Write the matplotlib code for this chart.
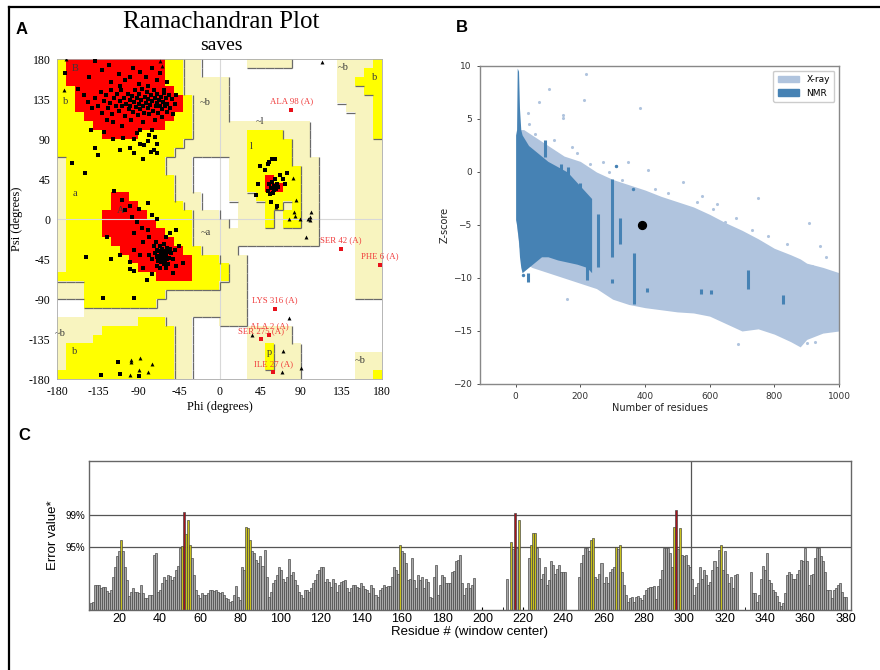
import numpy as np
import matplotlib as mpl
mpl.use('Agg')
import matplotlib.pyplot as plt
from matplotlib.colors import ListedColormap
from matplotlib.collections import LineCollection
from matplotlib.lines import Line2D
from matplotlib.patches import Patch

# ---------------- panel A: Ramachandran plot ----------------
# 10 degree cells; rows from psi=180 (top) to psi=-180, columns phi=-180..180
# R core, Y allowed, P generously allowed, . disallowed
rama_regions = [
    "YRRRRR" "RRRRRR" "YYPP.." "...PPP" "PP...." ".PPPPY",
    "YRRRRR" "RRRRRR" "YYPP.." "......" "......" ".PPPYY",
    "YRRRRR" "RRRRRR" "YYPPPP" "P....." "......" ".PPYYY",
    "YYRRRR" "RRRRRR" "RYPPPP" "P....." "......" ".PPPYY",
    "YYRRRR" "RRRRRR" "RRYPPP" "P....." "......" ".PPPPY",
    "YYRRRR" "RRRRRR" "RRYPPP" "P....." "......" "..PPPY",
    "YYYRRR" "RRRRRR" "RYYPPP" "P....." "......" "...PPY",
    "YYYYRR" "RRRRRR" "YYYPPP" "PPPPPP" "PPPP.." "...PPY",
    "YYYYYR" "RRRYYY" "YYYPPP" "PPPYYY" "YPPP.." "...PPY",
    "YYYYYY" "YYYYYY" "YYPPPP" "PPPYYY" "YYPP.." "...PPP",
    "YYYYYY" "YYYYYY" "YPPPPP" "PPPYYY" "YYPP.." "...PPP",
    "PYYYYY" "YYYYYY" "PPP..." ".PPYYY" "YYPPP." "...PPP",
    "PYYYYY" "YYYYYY" "PPP..." ".PPYYY" "YYYPP." "...PPP",
    "PYYYYY" "YYYYYY" "YPP..." ".PPYYR" "YYYPP." "...PPP",
    "PYYYYY" "YYYYYY" "YPP..." ".PPYYR" "RYYPP." "...PPP",
    "PYYYYY" "RRYYYY" "YPPP.." ".PPPYY" "YYYPP." "...PPP",
    "PYYYYY" "RRRYYY" "YYPP.." "..PPPY" "YPYPP." "...PPP",
    "PYYYYR" "RRRRYY" "YYYPPP" "..PPPY" "PYYPP." "...PPP",
    "PYYYYR" "RRRRRY" "YYYPPP" "P.PPPY" "PYYPP." "...PPP",
    "PYYYYR" "RRRRRR" "YYYPPP" "PPPPPP" "PPPPP." "...PPP",
    "PYYYYY" "RRRRRR" "RYYPPP" "PPPPPP" "PPPPP." "...PPP",
    "PYYYYY" "YRRRRR" "RRYYPP" "PP...." "......" "...PPP",
    "PYYYYY" "YYRRRR" "RRRYYY" "PPP..." "......" "...PPP",
    "PYYYYY" "YYYRRR" "RRRYYY" "YPP..." "......" "...PPP",
    "YYYYYY" "YYYYYR" "RRRYYY" "YPP..." "......" "...PPP",
    "PPPYYY" "YYYYYY" "YYYYYY" "PPP..." "......" "...PPP",
    "PPPYYY" "YYYYYY" "PPPPPP" "PPP..." "......" "...PPP",
    "...YYY" "YYYYYP" "PPPPPP" "PPP..." "......" "......",
    "...PPP" "PPPPPP" "PPPPPP" "PPP..." "......" "......",
    "PPPPPP" "PPPYYY" "PPP..." "PPP..." "......" "......",
    "PPPPPY" "YYYYYY" "YPP..." "...PPP" "PP...." "......",
    "PPPPYY" "YYYYYY" "YPP..." "...PPP" "PP...." "......",
    "PYYYYY" "YYYYYY" "YPP..." "...PPY" "PPP..." "......",
    "PYYYYY" "YYYYYY" "YPP..." "...PPY" "PPP..." "...PPP",
    "PYYYYY" "YYYYYY" "YPP..." "...PPY" "PPP..." "...PPP",
    "YYYYYY" "YYYYYY" "YPP..." "...PPP" "PPP..." "...PPY",
]

# residues (phi, psi): squares = non-glycine, triangles = glycine
beta_pts = [
    (-171, 165), (-138, 178), (-123, 174), (-145, 160), (-130, 168), (-112, 163),
    (-100, 160), (-96, 170), (-88, 166), (-82, 160), (-75, 170), (-70, 157),
    (-66, 165), (-58, 155), (-110, 150), (-120, 155), (-90, 152), (-80, 150),
    (-62, 146), (-105, 157), (-157, 147),
    (-150, 140), (-146, 132), (-142, 125), (-138, 137), (-135, 128), (-132, 143),
    (-130, 120), (-128, 133), (-126, 140), (-124, 125), (-122, 131), (-120, 146),
    (-119, 118), (-117, 136), (-115, 128), (-114, 141), (-112, 122), (-111, 133),
    (-109, 145), (-108, 127), (-106, 137), (-105, 116), (-104, 130), (-102, 141),
    (-101, 124), (-100, 134), (-99, 128), (-97, 139), (-96, 121), (-95, 132),
    (-94, 145), (-93, 126), (-92, 136), (-91, 117), (-90, 130), (-89, 141),
    (-88, 124), (-87, 134), (-86, 147), (-85, 128), (-84, 120), (-83, 138),
    (-82, 131), (-81, 143), (-80, 125), (-79, 135), (-78, 118), (-77, 129),
    (-76, 140), (-75, 133), (-74, 122), (-73, 146), (-72, 136), (-71, 127),
    (-70, 131), (-69, 141), (-68, 120), (-67, 134), (-66, 128), (-65, 138),
    (-64, 124), (-63, 132), (-62, 142), (-61, 127), (-60, 136), (-59, 121),
    (-58, 130), (-56, 140), (-55, 125), (-53, 135), (-52, 118), (-50, 130),
    (-48, 140), (-118, 110), (-108, 105), (-125, 112), (-98, 112), (-85, 110),
    (-72, 112), (-64, 115),
    (-143, 100), (-128, 98), (-118, 90), (-107, 92), (-95, 90), (-92, 97),
    (-88, 100), (-100, 80), (-88, 85), (-84, 84), (-80, 88), (-78, 95),
    (-75, 100), (-72, 93), (-70, 85), (-70, 75), (-73, 78), (-76, 76),
    (-95, 75), (-85, 68), (-110, 78), (-164, 63), (-149, 52), (-138, 80),
    (-135, 72),
]
alpha_pts = [
    (-65, -40), (-62, -38), (-60, -42), (-67, -36), (-63, -45), (-58, -37),
    (-70, -42), (-64, -33), (-61, -47), (-56, -43), (-68, -47), (-66, -30),
    (-59, -32), (-72, -38), (-54, -38), (-62, -50), (-69, -52), (-57, -50),
    (-75, -45), (-52, -45), (-64, -42), (-66, -44), (-60, -39), (-63, -36),
    (-61, -41), (-67, -41), (-65, -48), (-58, -45), (-70, -35), (-55, -33),
    (-73, -30), (-50, -35), (-78, -40), (-66, -55), (-60, -55), (-71, -25),
    (-62, -28),
    (-117, 32), (-108, 22), (-100, 15), (-105, 10), (-97, 3), (-92, -3),
    (-86, -10), (-80, -12), (-95, -15), (-78, -20), (-85, -25), (-88, -40),
    (-95, -35), (-100, -48), (-110, -40), (-121, -45), (-125, -20), (-75, 5),
    (-70, 0), (-60, -20), (-55, -15), (-49, -12), (-45, -30), (-48, -52),
    (-52, -60), (-41, -49), (-85, -55), (-81, -68), (-75, -62), (-99, -56),
    (-95, -58), (-148, -42), (-95, -88), (-129, -88), (-90, 12), (-80, 18),
]
left_pts = [
    (53, 32), (57, 35), (60, 38), (62, 34), (58, 42), (55, 40), (63, 40),
    (59, 30), (61, 45), (56, 28), (64, 36), (60, 33), (50, 55), (53, 62),
    (55, 65), (58, 68), (61, 68), (45, 60), (42, 40), (67, 50), (70, 45),
    (72, 40), (75, 52), (57, 20), (63, 15), (40, 27),
]
low_b_pts = [(-132, -175), (-110, -174), (-90, -176), (-113, -160)]
gly_pts = [
    (-170, 180), (-173, 146), (-66, 178), (-64, 173), (113, 177),
    (81, 46), (84, 22), (62, 14), (82, 8), (83, 4), (77, 0), (89, 0),
    (98, 0), (100, 3), (101, 8), (100, -1), (95, -20),
    (-98, -158), (-98, -161), (-88, -156), (-90, -170), (-75, -163),
    (-100, -175), (-80, -172), (77, -111), (70, -148), (90, -167),
    (69, -172), (36, -130),
]
outlier_names = ["ALA 98 (A)", "SER 42 (A)", "PHE 6 (A)", "LYS 316 (A)",
                 "ALA 2 (A)", "SER 275 (A)", "ILE 27 (A)"]
outlier_phi = [79, 134, 177, 61, 55, 46, 59]
outlier_psi = [123, -33, -51, -101, -130, -135, -172]

region_labels = ["B", "b", "~b", "a", "A", "~a", "~l", "l", "~b", "b", "p",
                 "~b", "b", "~b"]
region_label_phi = [-160, -171, -16, -160, -110, -15, 45, 35, -177, -161, 55,
                    137, 171, 155]
region_label_psi = [170, 132, 131, 29, 10, -15, 110, 82, -129, -149, -150,
                    171, 160, -159]

# ---------------- panel B: ProSA z-scores ----------------
xray_x = [3, 10, 25, 50, 100, 150, 200, 250, 300, 350, 400, 450, 500, 550,
          600, 650, 700, 750, 800, 850, 880, 900, 950, 1000]
xray_hi = [-1.0, 4.0, 4.0, 3.5, 2.5, 1.5, 1.0, 0.0, -0.7, -1.2, -1.7, -2.3,
           -2.8, -3.3, -4.0, -4.8, -5.5, -6.3, -7.2, -7.8, -8.2, -8.6, -9.0, -9.5]
xray_lo = [-5.0, -7.0, -8.5, -9.0, -9.5, -10.0, -10.5, -11.0, -12.0, -12.5,
           -12.8, -13.0, -13.2, -13.3, -13.6, -14.3, -15.0, -14.8, -15.3,
           -16.0, -16.5, -15.8, -15.2, -15.0]
xray_pts_x = [217, 102, 210, 71, 385, 146, 145, 39, 174, 270, 347, 310, 409,
              519, 576, 749, 622, 648, 730, 907, 941, 917, 888, 960, 900, 925,
              1003, 159, 689,
              40, 60, 120, 190, 230, 290, 330, 430, 470, 560, 610, 680, 780,
              840, 960]
xray_pts_y = [9.2, 7.8, 6.8, 6.6, 6.0, 5.4, 5.1, 5.6, 2.4, 0.9, 0.9, 0.6, 0.2,
              -0.9, -2.3, -2.5, -3.0, -4.7, -5.5, -4.8, -7.0, -8.9, -10.2, -9.9,
              -16.1, -16.0, -14.0, -12.0, -16.2,
              4.5, 3.6, 3.0, 1.8, 0.8, 0.0, -0.8, -1.6, -2.0, -2.8, -3.5, -4.3,
              -6.0, -6.8, -8.0]
nmr_x = [0, 3, 5, 9, 12, 16, 20, 40, 60, 80, 100, 130, 160, 190, 220, 235]
nmr_hi = [3.5, 4.0, 9.8, 9.5, 6.0, 4.0, 3.5, 2.5, 2.0, 1.5, 1.0, 0.5, 0.0,
          -1.0, -2.0, -2.5]
nmr_lo = [-4.5, -5.0, -5.5, -6.5, -8.0, -9.0, -9.5, -9.0, -8.5, -8.0, -8.0,
          -8.3, -8.5, -8.7, -9.0, -9.5]
nmr_streak_x = [38, 91, 140, 162, 200, 220, 255, 298, 298, 323, 365, 405, 574,
                604, 720, 828]
nmr_streak_hi = [-9.5, 3.0, 0.8, 0.5, -1.0, -7.0, -4.0, -0.7, -10.1, -4.3,
                 -7.6, -10.9, -11.0, -11.1, -9.2, -11.6]
nmr_streak_lo = [-10.4, 1.4, -0.1, -2.3, -2.3, -10.2, -9.0, -8.0, -10.5, -6.8,
                 -12.5, -11.3, -11.5, -11.5, -11.0, -12.5]
nmr_pts_x = [310, 362, 22]
nmr_pts_y = [0.6, -1.6, -9.7]
model_size = 390
model_z = -5.0

# ---------------- panel C: ERRAT ----------------
limit_95 = 11.36
limit_99 = 17.19
errat_segments = [
    (6, [1.2, 1.5, 4.6, 4.6, 4.6, 3.9, 4.2, 4.2, 3.5, 3.0,
         3.6, 6.0, 7.8, 9.8, 10.7, 12.7, 10.7, 7.8, 5.4, 2.6,
         3.3, 4.0, 3.2, 3.3, 3.0, 4.5, 3.0, 2.1, 2.1, 2.7,
         2.7, 10.0, 10.3, 3.3, 3.6, 4.8, 6.0, 5.4, 6.3, 6.2,
         5.4, 6.0, 7.2, 8.0, 11.2, 11.6, 17.7, 13.7, 16.3, 11.8,
         9.4, 6.3, 3.6, 2.7, 2.1, 3.0, 2.7, 2.8, 3.0, 3.6,
         3.7, 3.4, 3.6, 3.3, 3.0, 3.2, 2.8, 2.2, 1.9, 1.5,
         1.6, 2.7, 4.4, 2.4, 1.8, 7.7, 7.2, 15.1, 14.9, 12.7,
         10.7, 10.3, 9.1, 8.5, 9.7, 7.9, 10.9, 6.0, 2.4, 3.3,
         4.8, 5.4, 6.3, 7.8, 7.2, 5.7, 5.1, 6.0, 9.2, 6.3,
         6.8, 5.4, 4.5, 3.3, 2.7, 2.1, 3.6, 3.6, 3.3, 3.9,
         4.8, 5.4, 6.6, 7.2, 7.7, 7.7, 5.1, 5.6, 5.0, 4.2,
         5.7, 4.8, 3.3, 4.5, 5.0, 5.3, 5.4, 3.9, 3.2, 3.9,
         4.6, 4.5, 4.2, 3.9, 4.8, 4.4, 3.8, 3.6, 3.0, 4.5,
         4.0, 2.8, 2.4, 3.6, 4.0, 4.5, 4.2, 4.4, 4.4, 5.9,
         7.8, 7.2, 6.5, 11.7, 10.6, 10.3, 8.5, 5.4, 5.7, 9.4,
         5.4, 3.9, 6.3, 5.4, 6.0, 3.9, 5.7, 5.1, 2.4, 2.1,
         6.0, 8.2, 2.8, 4.6, 6.3, 5.9, 4.8, 4.8, 4.8, 6.9,
         7.1, 8.9, 9.1, 10.0, 4.8, 2.8, 3.9, 4.8, 4.0, 4.5, 5.8]),
    (212, [5.7]),
    (214, [12.4, 11.0, 17.5, 11.2, 16.3]),
    (223, [9.4, 11.8, 13.9, 13.9, 11.2, 9.4, 5.7, 6.6, 7.7, 4.5,
           5.4, 8.8, 8.2, 6.6, 7.4, 8.1, 6.9, 6.8, 6.8]),
    (248, [6.0, 8.5, 10.0, 11.2, 11.2, 10.6, 12.7, 13.0, 6.0, 5.7,
           6.6, 8.5, 4.8, 6.0, 4.8, 6.9, 7.5, 7.8, 11.5, 11.0,
           11.8, 6.9, 4.5, 2.7, 1.5, 2.1, 2.4, 1.5, 2.4, 2.5,
           2.1, 1.8, 2.7, 3.6, 3.9, 4.2, 4.2, 4.4, 2.0, 4.4,
           5.7, 7.2, 11.2, 11.2, 11.2, 10.3, 7.8, 15.1, 18.1, 11.0,
           14.8, 10.0, 9.7, 10.0, 8.2, 7.8, 5.7, 2.7, 4.2, 4.8,
           7.8, 5.6, 7.2, 6.3, 4.5, 5.1, 7.2, 8.8, 7.8, 10.9,
           11.8, 7.2, 10.6, 6.6, 4.8, 6.0, 3.9, 6.3, 6.6]),
    (333, [6.9, 3.0, 3.0, 1.5, 2.7, 5.7, 8.0, 7.2, 10.4, 5.4,
           4.8, 3.6, 3.3, 2.5, 1.5, 0.7, 1.2, 3.0, 6.3, 6.9,
           6.5, 5.6, 5.6, 6.6, 7.2, 9.1, 8.8, 11.2, 8.8, 4.5,
           6.3, 6.6, 9.4, 11.2, 11.2, 9.8, 8.8, 6.9, 3.6, 3.6,
           2.1, 3.7, 3.9, 4.5, 4.8, 3.3, 2.4, 2.4]),
]
chain_mark = 303.5

serif = ['Liberation Serif', 'DejaVu Serif']
sans = ['Liberation Sans', 'DejaVu Sans']

fig = plt.figure(figsize=(8.8, 6.7), dpi=100)

# outer frame (top and left edges)
fig.add_artist(Line2D([9 / 880, 1.0], [1 - 7 / 670] * 2, color='black',
                      lw=1.6, transform=fig.transFigure))
fig.add_artist(Line2D([9 / 880] * 2, [0.0, 1 - 7 / 670], color='black',
                      lw=1.6, transform=fig.transFigure))
for lab, x, y in [("A", 16, 30), ("B", 456, 28), ("C", 18, 436)]:
    fig.text(x / 880, 1 - y / 670, lab, fontsize=12, fontweight='bold',
             family=sans, ha='left', va='center')

# ---- A ----
axA = fig.add_axes([0.0651, 0.4339, 0.3693, 0.4776])
levels = {'.': 0, 'P': 1, 'Y': 2, 'R': 3}
grid = np.array([[levels[ch] for ch in row] for row in rama_regions])
cmap = ListedColormap(['#ffffff', '#f8f4bf', '#ffff00', '#ff0000'])
axA.imshow(grid, cmap=cmap, vmin=-0.5, vmax=3.5, extent=[-180, 180, -180, 180],
           interpolation='nearest', aspect='auto', zorder=0)
# darker shadow on the lower/right edges of the allowed regions
segs = []
for i in range(36):
    for j in range(36):
        v = grid[i, j]
        if v == 0 or v == 3:
            continue
        x0 = -180 + 10 * j
        top = 180 - 10 * i
        if i < 35 and grid[i + 1, j] < v:
            segs.append([(x0, top - 10), (x0 + 10, top - 10)])
        if j < 35 and grid[i, j + 1] < v:
            segs.append([(x0 + 10, top - 10), (x0 + 10, top)])
axA.add_collection(LineCollection(segs, colors='#6a6a6a', linewidths=0.9, zorder=1))
axA.axhline(0, color='#d8d8d8', lw=0.8, zorder=0.5)
axA.axvline(0, color='#d8d8d8', lw=0.8, zorder=0.5)

for txt, x, y in zip(region_labels, region_label_phi, region_label_psi):
    axA.text(x, y, txt, fontsize=7.5, family=serif, color='#3a3a3a',
             ha='center', va='center', zorder=2)

sq = beta_pts + alpha_pts + left_pts + low_b_pts
axA.scatter([p[0] for p in sq], [p[1] for p in sq], marker='s', s=7,
            color='black', linewidths=0, zorder=3)
axA.scatter([p[0] for p in gly_pts], [p[1] for p in gly_pts], marker='^', s=8,
            color='black', linewidths=0, zorder=3)
axA.scatter(outlier_phi, outlier_psi, marker='s', s=8, color='#e8101a',
            linewidths=0, zorder=3)
for name, x, y in zip(outlier_names, outlier_phi, outlier_psi):
    axA.text(x, y + 5, name, fontsize=6.3, family=serif, color='#f03a3a',
             ha='center', va='bottom', zorder=4)

ticks = [-180, -135, -90, -45, 0, 45, 90, 135, 180]
axA.set_xlim(-180, 180)
axA.set_ylim(-180, 180)
axA.set_xticks(ticks)
axA.set_yticks(ticks)
axA.set_xticklabels([str(t) for t in ticks], family=serif, fontsize=8.5)
axA.set_yticklabels([str(t) for t in ticks], family=serif, fontsize=8.5)
axA.tick_params(length=0, pad=5)
axA.set_xlabel("Phi (degrees)", family=serif, fontsize=9, labelpad=2)
axA.set_ylabel("Psi (degrees)", family=serif, fontsize=9, labelpad=4)
for s in axA.spines.values():
    s.set_color('#aaaaaa')
    s.set_linewidth(0.6)
fig.text(221 / 880, 1 - 22 / 670, "Ramachandran Plot", family=serif,
         fontsize=18, ha='center', va='center')
fig.text(221 / 880, 1 - 46 / 670, "saves", family=serif, fontsize=14,
         ha='center', va='center')

# ---- B ----
light = '#b0c4de'
dark = '#4682b4'
axB = fig.add_axes([0.5455, 0.4269, 0.4079, 0.4746])
axB.fill_between(xray_x, xray_lo, xray_hi, color=light, lw=0, zorder=1)
axB.scatter(xray_pts_x, xray_pts_y, s=5, color=light, linewidths=0, zorder=1)
axB.fill_between(nmr_x, nmr_lo, nmr_hi, color=dark, lw=0, zorder=2)
axB.vlines(nmr_streak_x, nmr_streak_lo, nmr_streak_hi, color=dark, lw=2.2, zorder=2)
axB.scatter(nmr_pts_x, nmr_pts_y, s=6, color=dark, linewidths=0, zorder=2)
axB.scatter([model_size], [model_z], s=32, color='black', zorder=5)
axB.set_xlim(-110, 1000)
axB.set_ylim(-20, 10)
axB.set_xticks(range(0, 1001, 200))
axB.set_yticks(range(-20, 11, 5))
axB.tick_params(labelsize=6.5, colors='#333333', length=2.5, width=0.6)
axB.set_xlabel("Number of residues", fontsize=7, color='#222222', labelpad=1)
axB.set_ylabel("Z-score", fontsize=7, color='#222222', labelpad=2)
for s in axB.spines.values():
    s.set_color('#888888')
    s.set_linewidth(1.0)
axB.legend(handles=[Patch(color=light, label='X-ray'), Patch(color=dark, label='NMR')],
           loc='upper right', fontsize=6.5, handlelength=2.4, framealpha=1,
           edgecolor='#cccccc', borderpad=0.5)

# ---- C ----
axC = fig.add_axes([0.1011, 0.0896, 0.8656, 0.2224])
res, vals = [], []
for start, seg in errat_segments:
    for k, v in enumerate(seg):
        res.append(start + k)
        vals.append(v)
cols = ['#a8141c' if v > limit_99 else '#c9c21e' if v > limit_95 else '#a9a9a9'
        for v in vals]
axC.bar(res, vals, width=1.0, color=cols, edgecolor='#3e3e3e', linewidth=0.45,
        zorder=2)
axC.axhline(limit_95, color='#555555', lw=0.9, zorder=1)
axC.axhline(limit_99, color='#555555', lw=0.9, zorder=1)
axC.axvline(chain_mark, color='#555555', lw=0.9, zorder=1)
axC.set_xlim(5, 382.5)
axC.set_ylim(0, 27)
axC.set_xticks(range(20, 381, 20))
axC.set_xticks(range(10, 381, 20), minor=True)
axC.set_xticklabels([str(t) for t in range(20, 381, 20)], family=sans, fontsize=9)
axC.set_yticks([limit_95, limit_99])
axC.set_yticklabels(["95%", "99%"], family=sans, fontsize=7)
axC.tick_params(axis='x', which='both', length=2.5, direction='in', pad=2)
axC.tick_params(axis='y', length=0, pad=3)
axC.set_xlabel("Residue # (window center)", family=sans, fontsize=9.5, labelpad=1)
axC.set_ylabel("Error value*", family=sans, fontsize=9.5, labelpad=4)
for s in axC.spines.values():
    s.set_color('#666666')
    s.set_linewidth(1.0)

fig.savefig('out.png', dpi=100)
